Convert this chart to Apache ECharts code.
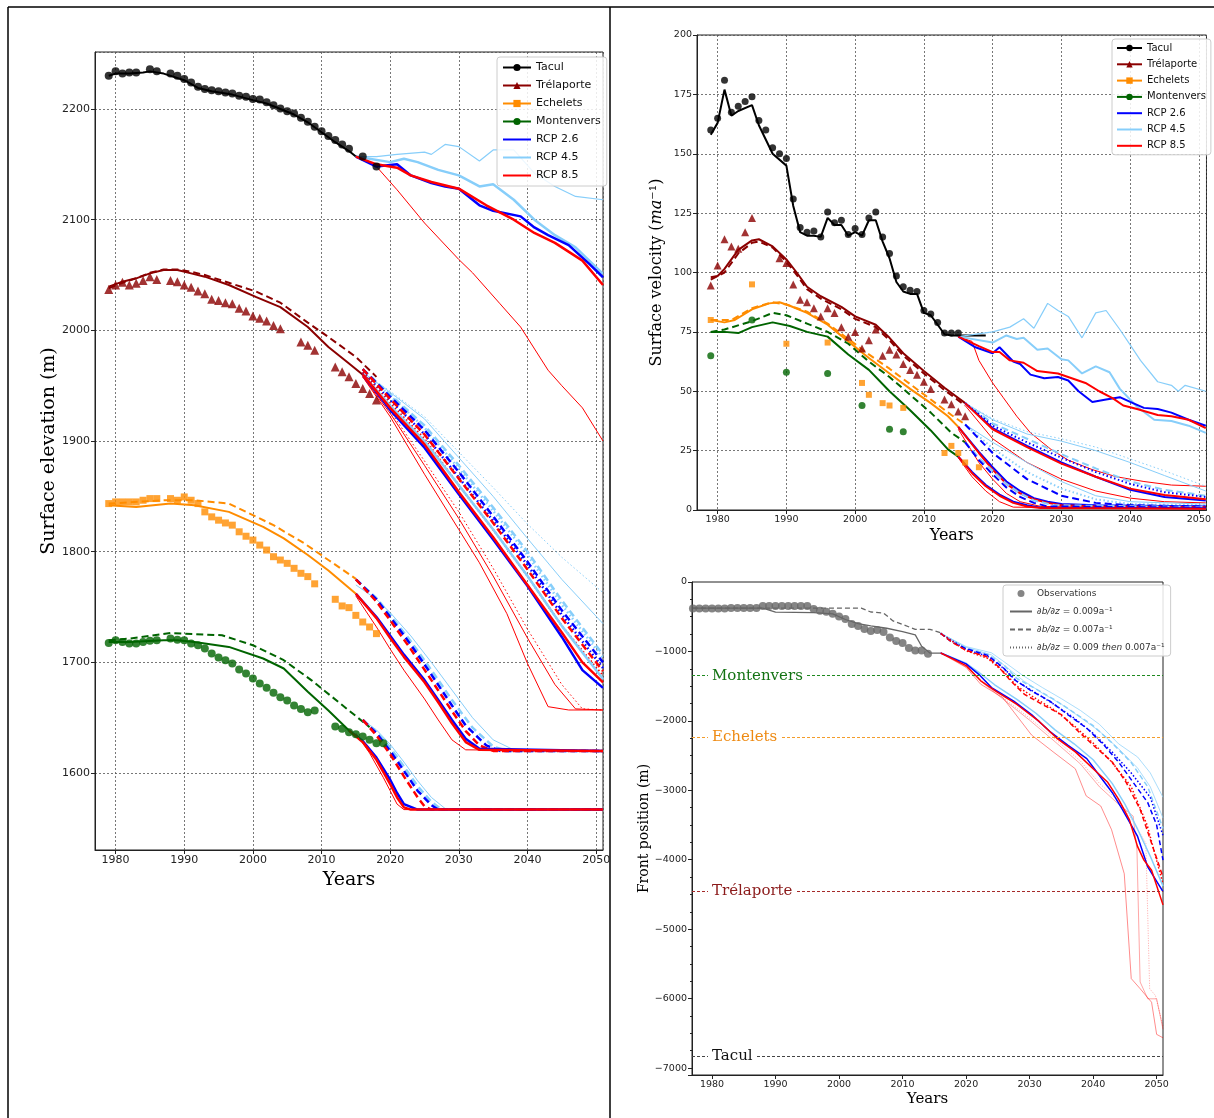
<!DOCTYPE html>
<html>
<head>
<meta charset="utf-8">
<title>Mer de Glace glaciers</title>
<script src="https://cdn.jsdelivr.net/npm/echarts@6/dist/echarts.min.js"></script>
<style>
  html, body { margin: 0; padding: 0; background: #fff; }
  #chart { width: 1214px; height: 1118px; }
</style>
</head>
<body>
<div id="chart"></div>
<script>
// ---------- panel 1 : surface elevation (m) ----------
const eTaculObs = [[1979,2230],[1980,2234],[1981,2232],[1982,2233],[1983,2233],[1985,2236],[1986,2234],[1988,2232],[1989,2230],[1990,2227],[1991,2224],[1992,2220],[1993,2218],[1994,2217],[1995,2216],[1996,2215],[1997,2214],[1998,2212],[1999,2211],[2000,2209],[2001,2208.5],[2002,2206],[2003,2203.5],[2004,2200.5],[2005,2198],[2006,2196],[2007,2192],[2008,2188.5],[2009,2184],[2010,2180],[2011,2175.5],[2012,2172],[2013,2168],[2014,2164],[2016,2157],[2018,2148]];
const eTaculModel = [[1979,2230],[1980,2232],[1982,2232],[1984,2233],[1985,2234],[1987,2232],[1990,2226],[1992,2219],[1994,2216],[1997,2213],[2000,2208],[2002,2205],[2004,2200],[2006,2195],[2008,2188],[2010,2179],[2012,2170],[2014,2162],[2015,2157]];
const eTacul26 = [[2015,2157],[2018,2148],[2021,2150],[2023,2140],[2026,2133],[2028,2130],[2030,2128],[2033,2113],[2035,2108],[2039,2103],[2041,2093],[2043,2086],[2046,2077],[2049,2060],[2051,2048]];
const eTacul45 = [[2015,2157],[2020,2152],[2022,2155],[2024,2152],[2027,2145],[2030,2140],[2033,2130],[2035,2132],[2038,2118],[2041,2100],[2044,2086],[2047,2075],[2051,2051]];
const eTacul85 = [[2015,2157],[2018,2150],[2021,2147],[2023,2140],[2026,2134],[2030,2128],[2034,2113],[2038,2100],[2041,2088],[2044,2079],[2048,2063],[2051,2041]];
const eTacul45thin = [[2015,2157],[2018,2157],[2021,2159],[2025,2161],[2026,2159],[2028,2168],[2030,2166],[2033,2153],[2035,2163],[2038,2163],[2041,2142],[2044,2130],[2047,2121],[2051,2118]];
const eTacul85thin = [[2016,2155],[2018,2148],[2021,2127],[2025,2097],[2030,2064],[2032,2052],[2036,2024],[2039,2003],[2043,1964],[2045,1950],[2048,1930],[2051,1900]];

const eTreObs = [[1979,2037],[1980,2041],[1981,2043.5],[1982,2041],[1983,2042.5],[1984,2045],[1985,2048.5],[1986,2046],[1988,2045],[1989,2044],[1990,2041],[1991,2039],[1992,2035.5],[1993,2033],[1994,2028],[1995,2027],[1996,2025],[1997,2024],[1998,2020],[1999,2017.5],[2000,2013],[2001,2011],[2002,2008.5],[2003,2004.5],[2004,2001.5],[2007,1989.5],[2008,1986.5],[2009,1982],[2012,1967],[2013,1962.5],[2014,1958],[2015,1952],[2016,1947.5],[2017,1943],[2018,1937]];
const eTreModel = [[1979,2039.5],[1981,2044],[1983,2047],[1985,2051.5],[1987,2054.5],[1989,2054.5],[1991,2051.5],[1993,2048.5],[1996.5,2041],[2000.5,2030],[2004,2021],[2008,2003],[2011,1985],[2014,1970],[2017,1955]];
const eTreModelDash = [[1979,2038],[1981,2043],[1983,2047],[1985,2052],[1987,2055],[1989,2055],[1991,2053],[1993,2050],[1996.5,2043],[2000.5,2035],[2004,2025],[2008,2007],[2011,1994],[2015,1976],[2018,1958]];
const eTre26 = [[2016,1960],[2020,1928],[2025,1894],[2030,1852],[2035,1811],[2040,1769],[2045,1723],[2048,1693],[2051,1677]];
const eTre45 = [[2016,1960],[2020,1932],[2025,1900],[2030,1860],[2035,1820],[2040,1778],[2045,1733],[2051,1685]];
const eTre85 = [[2016,1960],[2020,1930],[2025,1897],[2030,1854],[2035,1813],[2040,1770],[2045,1727],[2048,1700],[2051,1682]];
const eTre26dash = [[2016,1965],[2020,1940],[2025,1910],[2030,1872],[2035,1832],[2040,1791],[2045,1747],[2051,1700]];
const eTre45dash = [[2016,1965],[2020,1942],[2025,1914],[2030,1878],[2035,1840],[2040,1800],[2045,1756],[2051,1707]];
const eTre85dash = [[2016,1965],[2020,1938],[2025,1906],[2030,1866],[2035,1826],[2040,1784],[2045,1740],[2051,1692]];
const eTre26dot = [[2016,1962],[2020,1937],[2025,1906],[2030,1867],[2035,1828],[2040,1788],[2045,1743],[2051,1695]];
const eTre45dot = [[2016,1962],[2020,1941],[2025,1912],[2030,1875],[2035,1837],[2040,1797],[2045,1752],[2051,1704]];
const eTre85dot = [[2016,1962],[2020,1934],[2025,1902],[2030,1860],[2035,1820],[2040,1778],[2045,1733],[2051,1688]];
const eTre45thinA = [[2016,1962],[2020,1945],[2025,1922],[2030,1890],[2035,1858],[2040,1825],[2045,1795],[2051,1763]];
const eTre45thinB = [[2016,1962],[2020,1944],[2025,1920],[2030,1885],[2035,1850],[2040,1812],[2045,1775],[2051,1735]];
const eTre85thinA = [[2016,1958],[2020,1922],[2025,1870],[2030,1820],[2033,1790],[2037,1744],[2040,1699],[2043,1660],[2046,1657],[2051,1657]];
const eTre85thinB = [[2016,1958],[2020,1925],[2025,1878],[2030,1830],[2035,1778],[2040,1722],[2044,1680],[2047,1658],[2051,1657]];
const eTre85thinC = [[2016,1958],[2020,1927],[2025,1882],[2030,1836],[2035,1785],[2040,1730],[2045,1680],[2048,1658],[2051,1657]];

const eEchObs = [[1979,1843.5],[1980,1845],[1981,1845],[1982,1845],[1983,1845],[1984,1846.5],[1985,1848],[1986,1848],[1988,1848],[1989,1846.5],[1990,1849.5],[1991,1846.5],[1992,1843.5],[1993,1836],[1994,1831.5],[1995,1828.5],[1996,1826],[1997,1824],[1998,1818],[1999,1814],[2000,1810.5],[2001,1806],[2002,1801.5],[2003,1795.5],[2004,1792.5],[2005,1789.5],[2006,1785],[2007,1780.5],[2008,1777.5],[2009,1771],[2012,1757],[2013,1751],[2014,1749.5],[2015,1742.5],[2016,1736.5],[2017,1732],[2018,1726]];
const eEchModel = [[1979,1842],[1983,1840.5],[1988,1843.5],[1991.5,1842],[1996.5,1836],[2001.5,1822.5],[2004.5,1812],[2008,1797],[2011,1783],[2015,1762]];
const eEchModelDash = [[1979,1843.5],[1987,1846.5],[1991.5,1846.5],[1996.5,1843.5],[2000,1833],[2003,1824],[2007.5,1807.5],[2011,1792.5],[2015,1775.5]];
const eEch26 = [[2015,1762],[2018,1741],[2020,1724],[2022,1707],[2025,1684],[2027,1666],[2029,1648],[2031,1631],[2033,1622],[2051,1620]];
const eEch85 = [[2015,1762],[2018,1740],[2020,1722],[2022,1705],[2025,1682],[2027,1664],[2029,1645],[2031,1628],[2033,1621],[2051,1620]];
const eEch26dash = [[2015,1775],[2018,1757],[2020,1741],[2023,1716],[2026,1689],[2029,1661],[2031,1643],[2034,1625],[2036,1620],[2051,1620]];
const eEch45dash = [[2015,1775],[2018,1758],[2020,1743],[2023,1719],[2026,1693],[2029,1666],[2032,1641],[2035,1624],[2037,1620],[2051,1620]];
const eEch85dash = [[2015,1775],[2018,1755],[2020,1738],[2023,1712],[2026,1684],[2029,1656],[2031,1638],[2033,1625],[2035,1620],[2051,1620]];
const eEch45thin = [[2015,1770],[2018,1757],[2020,1745],[2023,1724],[2026,1700],[2029,1675],[2032,1650],[2035,1630],[2038,1621],[2051,1620]];
const eEch85thin = [[2015,1760],[2018,1732],[2020,1712],[2022,1693],[2025,1667],[2027,1648],[2029,1630],[2031,1621],[2051,1620]];

const eMonObs = [[1979,1717.5],[1980,1720],[1981,1718.5],[1982,1717],[1983,1717],[1984,1718.5],[1985,1719.5],[1986,1720],[1988,1721.5],[1989,1720.5],[1990,1720],[1991,1717],[1992,1715.5],[1993,1712.5],[1994,1708],[1995,1704.5],[1996,1702],[1997,1699],[1998,1693.5],[1999,1690],[2000,1685.5],[2001,1681],[2002,1677],[2003,1672.5],[2004,1668.5],[2005,1665.5],[2006,1661],[2007,1658],[2008,1655],[2009,1656.5],[2012,1642],[2013,1640],[2014,1637],[2015,1635],[2016,1633],[2017,1630],[2018,1627],[2019,1627]];
const eMonModel = [[1979,1718.5],[1982,1718.5],[1987,1720],[1989,1720],[1991.5,1718.5],[1996.5,1714],[2001.5,1703.5],[2004.5,1694.5],[2008,1673.5],[2011,1656.5],[2014,1638.5]];
const eMonModelDash = [[1979,1720],[1982,1721.5],[1988,1726.5],[1995.5,1724.5],[2000,1715.5],[2004.5,1702],[2008.5,1684],[2014,1656.5],[2017,1641.5]];
const eMon26 = [[2014,1638.5],[2016,1629],[2018,1614],[2020,1594],[2021,1582],[2022,1572],[2024,1567],[2051,1567]];
const eMon85 = [[2014,1638.5],[2016,1628],[2018,1612],[2020,1590],[2021,1578],[2022,1569],[2023,1567],[2051,1567]];
const eMon26dash = [[2016,1648],[2018,1636],[2020,1620],[2022,1602],[2024,1584],[2026,1571],[2027,1567],[2051,1567]];
const eMon45dash = [[2016,1648],[2018,1637],[2020,1623],[2022,1606],[2024,1588],[2026,1574],[2027.5,1567],[2051,1567]];
const eMon85dash = [[2016,1648],[2018,1634],[2020,1617],[2022,1597],[2024,1578],[2025,1570],[2026,1567],[2051,1567]];
const eMon45thin = [[2016,1648],[2018,1639],[2020,1626],[2022,1610],[2024,1593],[2026,1578],[2028,1568],[2051,1567]];
const eMon85thin = [[2015,1636],[2017,1618],[2019,1596],[2020,1584],[2021,1572],[2022,1567],[2051,1567]];

// ---------- panel 2 : surface velocity (m/a) ----------
const vTaculObs = [[1979,160],[1980,165],[1981,181],[1982,167.5],[1983,170],[1984,172],[1985,174],[1986,164],[1987,160],[1988,152.5],[1989,150],[1990,148],[1991,131],[1992,119],[1993,117],[1994,117.5],[1995,115],[1996,125.5],[1997,121],[1998,122],[1999,116],[2000,118.5],[2001,116],[2002,123],[2003,125.5],[2004,115],[2005,108],[2006,98.5],[2007,94],[2008,92.5],[2009,92],[2010,84],[2011,82.5],[2012,79],[2013,74.5],[2014,74.5],[2015,74.5]];
const vTaculModel = [[1979,158],[1980,163],[1981,177],[1982,166],[1983,168],[1985,170.5],[1986,162],[1988,150],[1990,145],[1991,128],[1992,117],[1993,115.5],[1994,115.5],[1995,115],[1996,123],[1997,120],[1998,120],[1999,115.5],[2000,117],[2001,115.5],[2002,122],[2003,122],[2004,113],[2005,106],[2006,96],[2007,92],[2008,91],[2009,91],[2010,83],[2011,82],[2012,78],[2013,74],[2014,73.5],[2019,73.5]];
const vTacul26 = [[2015,73],[2017.5,68.5],[2020,66],[2021,68.5],[2023,62.5],[2024,61.5],[2025.5,57],[2027.5,55.5],[2029.5,56],[2031,54.5],[2032.5,50],[2034.5,45.5],[2036.5,46.5],[2038.5,47.5],[2040,45.5],[2042,43],[2044,42.5],[2046,41],[2048.5,38],[2051,35.5]];
const vTacul45 = [[2015,73],[2020,70.5],[2022,73.5],[2023.5,72],[2024.5,72.5],[2026.5,67.5],[2028,68],[2030,63.5],[2031,63],[2033,57.5],[2035,60.5],[2037,58],[2038.5,51],[2041,43.5],[2043.5,38],[2046,37.5],[2048.5,35.5],[2051,32.5]];
const vTacul85 = [[2015,73],[2018,69],[2020,66.5],[2021,66.5],[2022.5,63],[2024.5,62],[2026.5,58.5],[2029.5,57.5],[2031.5,55.5],[2033.5,53.5],[2035.5,50],[2037.5,47],[2039,44],[2041,42.5],[2044,40],[2046,39.5],[2048.5,38],[2051,34.5]];
const vTacul45thin = [[2015,73],[2020,75],[2022.5,77],[2024.5,80.5],[2026,76.5],[2028,87],[2029.5,84],[2031,81.5],[2033,72.5],[2035,83],[2036.5,84],[2038.5,76],[2040,69.5],[2041.5,63],[2044,54],[2046,52.5],[2047,50],[2048,52.5],[2051,50]];
const vTacul85thin = [[2016,72],[2017,71],[2018,63],[2020,53.5],[2021.5,47.5],[2023.5,39.5],[2025.5,32.5],[2028.5,25.5],[2031,21],[2034.5,17],[2038,14],[2042,12],[2046,10.5],[2051,10]];

const vTreObs = [[1979,94.5],[1980,103],[1981,114],[1982,111],[1983,110],[1984,117],[1985,123],[1989,106],[1990,104],[1991,95],[1992,88.5],[1993,87.5],[1994,85],[1995,81.5],[1996,85],[1997,83],[1998,77],[1999,73],[2000,75],[2001,68],[2002,71.5],[2003,76],[2004,65],[2005,67.5],[2006,65.5],[2007,61.5],[2008,59],[2009,57],[2010,54],[2011,51],[2013,46.5],[2014,44.5],[2015,41.5],[2016,39.5]];
const vTreModel = [[1979,98],[1980,98.5],[1981,101.5],[1983,109.5],[1985,113.5],[1986,114],[1988,111],[1990,105.5],[1991.5,100],[1993,94],[1995,90],[1998,85.5],[2000,81.5],[2003,78],[2005,72.5],[2007,66],[2010,58.5],[2013,51.5],[2016,45]];
const vTreModelDash = [[1979,97],[1981,100],[1983,108],[1985,112.5],[1986,113],[1988,110.5],[1990,104.5],[1991.5,99],[1993,93],[1995,89],[1998,84.5],[2000,80.5],[2003,77],[2005,71.5],[2007,65],[2010,57.5],[2013,50.5],[2016,44]];
const vTre26 = [[2016,45],[2020,34.5],[2025,27],[2030,20],[2035,14],[2040,8.5],[2045,5.5],[2051,4]];
const vTre85 = [[2016,45],[2020,34],[2025,26.5],[2030,19.5],[2035,14],[2040,9],[2045,6.3],[2051,4.5]];
const vTre26dot = [[2016,45],[2020,35.5],[2025,28.5],[2030,22],[2035,16],[2040,11],[2045,7.5],[2051,5.5]];
const vTre45dash = [[2016,45],[2020,36.5],[2025,30],[2030,23.5],[2035,17.5],[2040,12],[2045,8.5],[2051,6]];
const vTre45thinA = [[2016,45],[2020,38.5],[2025,33],[2030,30],[2035,26.5],[2040,21.5],[2045,16.5],[2051,10]];
const vTre45thinB = [[2016,45],[2020,38],[2025,32],[2030,29],[2035,25],[2040,20],[2045,14.5],[2051,8]];
const vTre85thin = [[2016,44],[2020,30],[2025,20],[2030,13],[2035,8],[2040,5],[2045,3.5],[2051,3]];

const vEchObs = [[1979,80],[1985,95],[1990,70],[1996,70.5],[2001,53.5],[2002,48.5],[2004,45],[2005,44],[2007,43],[2013,24],[2014,27],[2015,24],[2016,20],[2018,18]];
const vEchModel = [[1979,80],[1981,79],[1982.5,80],[1985,84.5],[1987.5,87],[1989,87.5],[1990.5,86],[1993,83],[1996,78],[1999,71],[2002,64],[2005,57.5],[2008,51],[2011,45],[2013.5,39.5],[2015,35]];
const vEchModelDash = [[1979,80],[1982,80],[1985,85],[1988,87.5],[1990,86.5],[1993,83.5],[1996,78.5],[1999,72],[2002,65.5],[2005,59.5],[2008,53],[2011,46.5],[2014,40],[2016,36]];
const vEch26 = [[2015,35],[2018,24.5],[2020,18],[2022,12],[2024,8],[2026,5],[2028,3.5],[2030,2.5],[2035,2],[2051,1.5]];
const vEch85 = [[2015,35],[2018,24],[2020,17],[2022,11],[2024,7],[2026,4.5],[2028,3],[2030,2],[2035,1.5],[2051,1.2]];
const vEch26dash = [[2016,36],[2020,24],[2025,13],[2030,6],[2035,3],[2040,2],[2051,1.5]];
const vEch45dot = [[2016,36],[2020,26],[2025,16],[2030,9],[2035,4.5],[2040,2.5],[2051,2]];
const vEch45thin = [[2016,36],[2020,28.5],[2025,20],[2030,12],[2035,6],[2040,3.5],[2051,2.5]];
const vEch85thin = [[2015,34],[2018,20],[2020,13],[2022,7],[2024,3.5],[2027,1.5],[2051,1]];

const vMonObs = [[1979,65],[1985,80],[1990,58],[1996,57.5],[2001,44],[2005,34],[2007,33]];
const vMonModel = [[1979,75],[1981,75],[1983,74.5],[1985,77],[1988,79],[1990.5,77.5],[1993,75],[1996,73],[1999,65.5],[2002,59],[2005,50],[2008,42],[2011,33.5],[2013.5,25.5],[2015,22.5]];
const vMonModelDash = [[1979,75],[1981,76],[1985,79.5],[1988,83],[1990,82],[1993,78.5],[1996,75],[1999,70],[2002,62.5],[2005,56],[2008,48.5],[2011,41],[2014,32.5],[2016,28.5]];
const vMon26 = [[2015,22.5],[2017,16],[2019,10.5],[2021,6.5],[2023,3.5],[2025,2],[2027,1],[2051,0.7]];
const vMon85 = [[2015,22.5],[2017,15.5],[2019,10],[2021,6],[2023,3],[2025,1.5],[2027,0.8],[2051,0.5]];
const vMon26dash = [[2016,28.5],[2018,21],[2020,15],[2022,9.5],[2024,5.5],[2026,3],[2028,1.5],[2051,1]];
const vMon45dash = [[2016,28.5],[2018,22],[2020,16.5],[2022,11],[2024,7],[2026,4],[2029,2],[2051,1.2]];
const vMon85thin = [[2015,22],[2017,14],[2019,8],[2021,3.5],[2023,1.2],[2051,0.5]];

// ---------- panel 3 : front position (m) ----------
const fObs = [[1977,-380],[1978,-380],[1979,-380],[1980,-380],[1981,-380],[1982,-380],[1983,-375],[1984,-375],[1985,-375],[1986,-375],[1987,-375],[1988,-345],[1989,-345],[1990,-345],[1991,-345],[1992,-345],[1993,-345],[1994,-345],[1995,-345],[1996,-390],[1997,-413],[1998,-430],[1999,-458],[2000,-497],[2001,-533],[2002,-605],[2003,-633],[2004,-677],[2005,-706],[2006,-692],[2007,-720],[2008,-800],[2009,-848],[2010,-877],[2011,-952],[2012,-985],[2013,-985],[2014,-1033]];
const fModel009 = [[1977,-375],[1988,-375],[1990,-435],[1996,-440],[1999,-460],[2001,-540],[2003,-600],[2005,-632],[2007.5,-666],[2010,-714],[2012,-762],[2013,-926],[2014.3,-1023],[2016,-1023]];
const fModel007 = [[1977,-375],[2003.5,-375],[2005,-432],[2007,-447],[2008.5,-560],[2012,-681],[2014.3,-681],[2016,-730]];
const f26 = [[2016,-1023],[2018,-1100],[2020,-1180],[2022,-1330],[2024,-1520],[2027.5,-1715],[2030.3,-1910],[2033.2,-2154],[2036,-2349],[2039,-2544],[2040.6,-2739],[2043,-3031],[2044.6,-3275],[2047,-3665],[2048.6,-4103],[2051,-4460]];
const f45 = [[2016,-1023],[2020,-1170],[2022,-1300],[2024.5,-1480],[2028,-1690],[2031,-1890],[2034,-2130],[2037,-2330],[2040,-2560],[2043,-2900],[2045,-3200],[2047,-3560],[2049,-3950],[2051,-4380]];
const f85 = [[2016,-1023],[2018,-1110],[2020,-1204],[2022.3,-1423],[2024.6,-1569],[2028,-1764],[2031.5,-2008],[2034.3,-2251],[2037.2,-2446],[2040,-2690],[2042.3,-2885],[2044,-3128],[2045.7,-3421],[2047,-3811],[2048,-4006],[2049.2,-4152],[2051,-4650]];
const f26dash = [[2016,-741],[2017.7,-862],[2020,-960],[2023.4,-1057],[2025.8,-1228],[2027.5,-1399],[2030.3,-1569],[2033.2,-1715],[2036,-1910],[2039,-2105],[2041.7,-2349],[2044,-2592],[2046.3,-2885],[2048.6,-3177],[2050,-3500],[2051,-4006]];
const f45dash = [[2016,-741],[2020,-950],[2023.4,-1040],[2026,-1200],[2028,-1390],[2031,-1540],[2034,-1700],[2037,-1880],[2040,-2070],[2043,-2320],[2046,-2600],[2048.6,-2950],[2051,-3550]];
const f85dash = [[2016,-741],[2017.7,-862],[2020,-984],[2023.4,-1082],[2025.2,-1228],[2027,-1423],[2029.2,-1618],[2032,-1764],[2035,-1910],[2037.7,-2154],[2040.6,-2397],[2043,-2592],[2045.2,-2885],[2047.4,-3275],[2049.2,-3762],[2051,-4250]];
const f26dot = [[2016,-741],[2020,-970],[2023.4,-1070],[2026,-1250],[2028,-1430],[2031,-1600],[2034,-1770],[2037,-1960],[2040,-2180],[2043,-2450],[2046,-2750],[2049,-3100],[2051,-3650]];
const f85dot = [[2016,-741],[2020,-990],[2023.4,-1100],[2026,-1300],[2028,-1500],[2031,-1680],[2034,-1850],[2037,-2070],[2040,-2320],[2043,-2600],[2046,-2950],[2048.5,-3500],[2051,-4350]];
const f45thinA = [[2016,-741],[2020,-930],[2024,-1020],[2026,-1150],[2029,-1350],[2032,-1520],[2035,-1680],[2038,-1850],[2041,-2050],[2044,-2330],[2047,-2520],[2049,-2750],[2051,-3100]];
const f45thinB = [[2016,-741],[2020,-940],[2024,-1050],[2026,-1200],[2029,-1420],[2032,-1600],[2035,-1760],[2038,-1950],[2041,-2150],[2044,-2400],[2047,-2680],[2049,-2950],[2051,-3400]];
const f85thinA = [[2016,-1023],[2020,-1230],[2022.3,-1472],[2025.8,-1667],[2030.3,-2203],[2033.7,-2446],[2037.2,-2690],[2038.9,-3080],[2041.2,-3226],[2042.9,-3567],[2044.9,-4201],[2046,-5711],[2047.4,-5857],[2049.2,-6052],[2050,-6515],[2051,-6564]];
const f85thinB = [[2016,-1023],[2020,-1220],[2023,-1480],[2026,-1700],[2030,-1990],[2034,-2300],[2038,-2620],[2041,-2950],[2044,-3200],[2046.3,-3372],[2046.9,-3859],[2047.4,-5760],[2048.6,-6003],[2050,-6003],[2051,-6442]];
const f85thinC = [[2016,-1023],[2020,-1215],[2023,-1460],[2026,-1680],[2030,-1960],[2034,-2260],[2038,-2580],[2041,-2900],[2044,-3150],[2046,-3400],[2048.3,-3762],[2048.9,-5857],[2049.8,-5955],[2051,-6393]];

const refNames = ['Montenvers', 'Echelets', 'Trélaporte', 'Tacul'];
const refLevels = [-1350, -2240, -4455, -6830];
const refColors = ['#1f8a1f', '#f39c2a', '#a52a2a', '#444444'];
const refTextColors = ['#137313', '#ee8a12', '#8b1a1a', '#111111'];

const legendNames = ['Tacul', 'Trélaporte', 'Echelets', 'Montenvers', 'RCP 2.6', 'RCP 4.5', 'RCP 8.5'];
const legendFront = {
  'Observations': 'Observations',
  'k009': '{i|∂b/∂z} = 0.009a⁻¹',
  'k007': '{i|∂b/∂z} = 0.007a⁻¹',
  'k0097': '{i|∂b/∂z} = 0.009 {i|then} 0.007a⁻¹'
};

// ---------- styles ----------
const BLK = '#000000', TRE = '#8b0000', ECH = '#ff8c00', MON = '#006400';
const B26 = '#0000ff', L45 = '#87cefa', R85 = '#ff0000', GRY = '#666666';
const DASH = [7, 4], DOT = [1.5, 2.5];

function ln(p, data, color, width, dash, name, extra) {
  return Object.assign({
    type: 'line', name: name || '', data: data,
    xAxisIndex: p, yAxisIndex: p,
    symbol: 'none', showSymbol: false, silent: true, animation: false,
    lineStyle: { color: color, width: width, type: dash || 'solid' },
    itemStyle: { color: color }, z: 3
  }, extra || {});
}
function pts(p, data, color, symbol, size, name) {
  return {
    type: 'scatter', name: name || '', data: data,
    xAxisIndex: p, yAxisIndex: p, symbol: symbol, symbolSize: size,
    itemStyle: { color: color }, silent: true, animation: false, z: 6
  };
}
const withSym = s => ({ symbol: s, showSymbol: false });

const series = [
  // panel 1 models
  ln(0, eTaculModel, BLK, 2, null, 'Tacul', withSym('circle')),
  ln(0, eTreModel, TRE, 2, null, 'Trélaporte', withSym('triangle')),
  ln(0, eTreModelDash, TRE, 2, DASH),
  ln(0, eEchModel, ECH, 2, null, 'Echelets', withSym('rect')),
  ln(0, eEchModelDash, ECH, 2, DASH),
  ln(0, eMonModel, MON, 2, null, 'Montenvers', withSym('circle')),
  ln(0, eMonModelDash, MON, 2, DASH),
  // panel 1 projections
  ln(0, eTacul85thin, R85, 1),
  ln(0, eTacul45thin, L45, 1.2),
  ln(0, eTacul45, L45, 2.5, null, 'RCP 4.5'),
  ln(0, eTacul26, B26, 2.5, null, 'RCP 2.6'),
  ln(0, eTacul85, R85, 2.5, null, 'RCP 8.5'),
  ln(0, eTre45thinA, L45, 1, DOT),
  ln(0, eTre45thinB, L45, 1),
  ln(0, eTre85thinA, R85, 1),
  ln(0, eTre85thinB, R85, 1),
  ln(0, eTre85thinC, R85, 1, DOT),
  ln(0, eTre45dash, L45, 2.5, DASH),
  ln(0, eTre45dot, L45, 2.5, DOT),
  ln(0, eTre26dash, B26, 2.5, DASH),
  ln(0, eTre26dot, B26, 2.5, DOT),
  ln(0, eTre85dash, R85, 2.5, DASH),
  ln(0, eTre85dot, R85, 2, DOT),
  ln(0, eTre45, L45, 2.5),
  ln(0, eTre26, B26, 2.5),
  ln(0, eTre85, R85, 2.5),
  ln(0, eEch45thin, L45, 1),
  ln(0, eEch85thin, R85, 1),
  ln(0, eEch45dash, L45, 2.5, DASH),
  ln(0, eEch26dash, B26, 2.5, DASH),
  ln(0, eEch85dash, R85, 2.5, DASH),
  ln(0, eEch26, B26, 2.5),
  ln(0, eEch85, R85, 2.5),
  ln(0, eMon45thin, L45, 1),
  ln(0, eMon85thin, R85, 1),
  ln(0, eMon45dash, L45, 2.5, DASH),
  ln(0, eMon26dash, B26, 2.5, DASH),
  ln(0, eMon85dash, R85, 2.5, DASH),
  ln(0, eMon26, B26, 2.5),
  ln(0, eMon85, R85, 2.5),
  // panel 1 observations
  pts(0, eTaculObs, BLK, 'circle', 8),
  pts(0, eTreObs, TRE, 'triangle', 9),
  pts(0, eEchObs, ECH, 'rect', 7),
  pts(0, eMonObs, MON, 'circle', 8),

  // panel 2 models
  ln(1, vTaculModel, BLK, 2),
  ln(1, vTreModel, TRE, 2),
  ln(1, vTreModelDash, TRE, 2, DASH),
  ln(1, vEchModel, ECH, 2),
  ln(1, vEchModelDash, ECH, 2, DASH),
  ln(1, vMonModel, MON, 2),
  ln(1, vMonModelDash, MON, 2, DASH),
  // panel 2 projections
  ln(1, vTacul85thin, R85, 1),
  ln(1, vTacul45thin, L45, 1.2),
  ln(1, vTacul45, L45, 2),
  ln(1, vTacul26, B26, 2),
  ln(1, vTacul85, R85, 2),
  ln(1, vTre45thinA, L45, 1, DOT),
  ln(1, vTre45thinB, L45, 1),
  ln(1, vTre85thin, R85, 1),
  ln(1, vTre45dash, L45, 2, DASH),
  ln(1, vTre26dot, B26, 2, DOT),
  ln(1, vTre26, B26, 2),
  ln(1, vTre85, R85, 2),
  ln(1, vEch45thin, L45, 1),
  ln(1, vEch85thin, R85, 1),
  ln(1, vEch45dot, L45, 2, DOT),
  ln(1, vEch26dash, B26, 2, DASH),
  ln(1, vEch26, B26, 2),
  ln(1, vEch85, R85, 2),
  ln(1, vMon85thin, R85, 1),
  ln(1, vMon45dash, L45, 2, DASH),
  ln(1, vMon26dash, B26, 2, DASH),
  ln(1, vMon26, B26, 2),
  ln(1, vMon85, R85, 2),
  // panel 2 observations
  pts(1, vTaculObs, BLK, 'circle', 7),
  pts(1, vTreObs, TRE, 'triangle', 8),
  pts(1, vEchObs, ECH, 'rect', 6),
  pts(1, vMonObs, MON, 'circle', 7),

  // panel 3
  ln(2, fModel009, GRY, 1.3, null, 'k009'),
  ln(2, fModel007, GRY, 1.3, [5, 3], 'k007'),
  ln(2, [], GRY, 1, [1, 2], 'k0097'),
  ln(2, f45thinA, 'rgba(135,206,250,0.7)', 1),
  ln(2, f45thinB, 'rgba(135,206,250,0.7)', 1),
  ln(2, f85thinA, 'rgba(255,0,0,0.45)', 1),
  ln(2, f85thinB, 'rgba(255,0,0,0.35)', 1),
  ln(2, f85thinC, 'rgba(255,0,0,0.35)', 1, [1, 1.5]),
  ln(2, f45dash, L45, 1.5, [5, 3]),
  ln(2, f26dot, B26, 1.5, [1.5, 2]),
  ln(2, f85dot, R85, 1.5, [1.5, 2]),
  ln(2, f26dash, B26, 1.5, [5, 3]),
  ln(2, f85dash, R85, 1.5, [5, 3]),
  ln(2, f45, L45, 1.5),
  ln(2, f26, B26, 1.5),
  ln(2, f85, R85, 1.5),
  Object.assign(pts(2, fObs, GRY, 'circle', 8, 'Observations'), {
    markLine: {
      silent: true, animation: false, symbol: ['none', 'none'],
      data: refLevels.map((v, i) => ({
        yAxis: v,
        lineStyle: { color: refColors[i], type: [3, 2], width: 1 },
        label: {
          show: true, formatter: refNames[i], position: 'insideStart', distance: [16, 0],
          color: refTextColors[i], fontFamily: 'DejaVu Serif', fontSize: 15,
          backgroundColor: '#fff', padding: [0, 4]
        }
      }))
    }
  })
];

// ---------- axes ----------
const tickFont = (fs) => ({ fontFamily: 'DejaVu Sans', fontSize: fs, color: '#222' });
function xAx(g, min, max, fs, gap, nameFs, grid) {
  return {
    type: 'value', gridIndex: g, min: min, max: max, splitNumber: 7,
    name: 'Years', nameLocation: 'middle', nameGap: gap,
    nameTextStyle: { fontFamily: 'DejaVu Serif', fontSize: nameFs, color: '#000' },
    axisLine: { show: true, onZero: false, lineStyle: { color: '#222' } },
    axisTick: { show: true, length: 4, lineStyle: { color: '#222' } },
    axisLabel: Object.assign(tickFont(fs), { showMinLabel: false, showMaxLabel: false, margin: 5, formatter: v => String(v) }),
    splitLine: { show: grid, lineStyle: { color: '#555', type: [2, 2], width: 0.8 } }
  };
}
function yAx(g, min, max, fs, name, gap, nameFs, grid, showMin, showMax, extra) {
  return Object.assign({
    type: 'value', gridIndex: g, min: min, max: max, splitNumber: 7,
    name: name, nameLocation: 'middle', nameGap: gap,
    nameTextStyle: {
      fontFamily: 'DejaVu Serif', fontSize: nameFs, color: '#000',
      rich: { i: { fontFamily: 'DejaVu Serif', fontSize: nameFs, fontStyle: 'italic', color: '#000' } }
    },
    axisLine: { show: true, onZero: false, lineStyle: { color: '#222' } },
    axisTick: { show: true, length: 4, lineStyle: { color: '#222' } },
    axisLabel: Object.assign(tickFont(fs), {
      showMinLabel: showMin, showMaxLabel: showMax, margin: 5,
      formatter: v => v < 0 ? '\u2212' + Math.abs(v) : String(v)
    }),
    splitLine: { show: grid, lineStyle: { color: '#555', type: [2, 2], width: 0.8 } }
  }, extra || {});
}

const legendBase = {
  orient: 'vertical', borderColor: '#cccccc', borderWidth: 1, borderRadius: 3,
  backgroundColor: 'rgba(255,255,255,0.85)', selectedMode: false
};
const legendItems = legendNames.map(n => n.indexOf('RCP') === 0 ? { name: n, itemStyle: { opacity: 0 } } : { name: n });

const option = {
  backgroundColor: '#ffffff',
  animation: false,
  grid: [
    { left: 95, top: 52, width: 508, height: 798, show: true, borderColor: '#222', borderWidth: 1 },
    { left: 697, top: 35, width: 511, height: 475, show: true, borderColor: '#222', borderWidth: 1 },
    { left: 692, top: 582, width: 471, height: 493, show: true, borderColor: '#222', borderWidth: 1 }
  ],
  xAxis: [
    xAx(0, 1977, 2051, 11, 20, 19, true),
    xAx(1, 1977, 2051.1, 9.5, 18, 16, true),
    xAx(2, 1976.85, 2051, 9.5, 17, 15, false)
  ],
  yAxis: [
    yAx(0, 1530.5, 2251.5, 11, 'Surface elevation (m)', 32, 19, true, false, false),
    yAx(1, 0, 200, 9.5, 'Surface velocity ({i|ma}⁻¹)', 32, 16, true, true, true, { interval: 25, splitNumber: null }),
    yAx(2, -7100, 0, 9.5, 'Front position (m)', 40, 14, false, false, true, {
      minorTick: { show: true, splitNumber: 4, length: 2, lineStyle: { color: '#222' } }
    })
  ],
  legend: [
    Object.assign({}, legendBase, {
      left: 497, top: 57, itemWidth: 28, itemHeight: 9, itemGap: 7, padding: [5, 6, 5, 5],
      textStyle: { fontFamily: 'DejaVu Sans', fontSize: 11, color: '#111' }, data: legendItems
    }),
    Object.assign({}, legendBase, {
      left: 1112, top: 39, itemWidth: 25, itemHeight: 8, itemGap: 6.3, padding: [4, 5, 4, 4],
      textStyle: { fontFamily: 'DejaVu Sans', fontSize: 10, color: '#111' }, data: legendItems
    }),
    Object.assign({}, legendBase, {
      left: 1003, top: 585, itemWidth: 22, itemHeight: 7, itemGap: 9, padding: [4, 6, 4, 6],
      textStyle: {
        fontFamily: 'DejaVu Sans', fontSize: 9, color: '#333',
        rich: { i: { fontFamily: 'DejaVu Sans', fontSize: 9, fontStyle: 'italic', color: '#333' } }
      },
      formatter: n => legendFront[n],
      data: [
        { name: 'Observations' },
        { name: 'k009', itemStyle: { opacity: 0 } },
        { name: 'k007', itemStyle: { opacity: 0 } },
        { name: 'k0097', itemStyle: { opacity: 0 } }
      ]
    })
  ],
  graphic: [
    { type: 'line', shape: { x1: 8, y1: 7, x2: 8, y2: 1118 }, style: { stroke: '#000', lineWidth: 1.5 } },
    { type: 'line', shape: { x1: 8, y1: 7, x2: 1214, y2: 7 }, style: { stroke: '#000', lineWidth: 1.5 } },
    { type: 'line', shape: { x1: 610, y1: 7, x2: 610, y2: 1118 }, style: { stroke: '#000', lineWidth: 1.5 } }
  ],
  series: series
};

const chart = echarts.init(document.getElementById('chart'), null, { renderer: 'canvas' });
chart.setOption(option);
</script>
</body>
</html>
